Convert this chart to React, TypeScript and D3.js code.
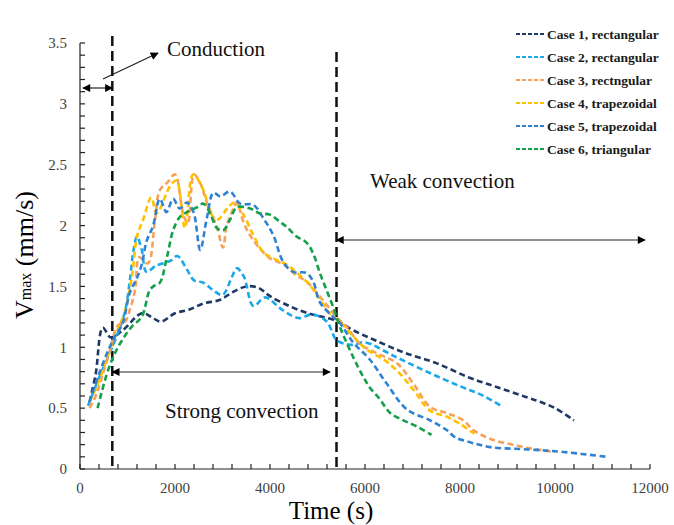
import { useEffect, useRef } from "react";
import * as d3 from "d3";

// time (s), Vmax (mm/s)
const case1 = [
  [200, 0.55], [330, 0.78], [480, 1.16], [650, 1.08], [900, 1.14], [1300, 1.28], [1500, 1.25],
  [1700, 1.21], [2000, 1.28], [2300, 1.31], [2600, 1.36], [2950, 1.39], [3200, 1.45], [3500, 1.5],
  [3750, 1.49], [4000, 1.42], [4400, 1.34], [4800, 1.28], [5100, 1.25], [5450, 1.21], [5750, 1.14],
  [6200, 1.06], [6800, 0.96], [7500, 0.87], [8200, 0.75], [8800, 0.67], [9400, 0.59], [9700, 0.55],
  [10000, 0.5], [10400, 0.4],
];
const case2 = [
  [170, 0.52], [400, 0.75], [600, 0.93], [800, 1.12], [950, 1.3], [1050, 1.55], [1120, 1.78],
  [1200, 1.91], [1300, 1.8], [1400, 1.62], [1600, 1.67], [1900, 1.71], [2050, 1.75], [2250, 1.64],
  [2400, 1.55], [2600, 1.53], [2800, 1.47], [3000, 1.43], [3200, 1.58], [3300, 1.65], [3450, 1.58],
  [3650, 1.34], [3900, 1.41], [4250, 1.31], [4600, 1.24], [4900, 1.27], [5200, 1.21], [5400, 1.06],
  [5700, 1.02], [6000, 1.04], [6600, 0.93], [7300, 0.8], [8000, 0.68], [8500, 0.6], [8900, 0.51],
];
const case3 = [
  [200, 0.5], [320, 0.59], [590, 0.92], [800, 1.18], [950, 1.21], [1050, 1.31], [1160, 1.47],
  [1250, 1.74], [1430, 1.69], [1580, 2.05], [1680, 2.29], [1830, 2.35], [2000, 2.42], [2170, 2.1],
  [2270, 2.02], [2400, 2.42], [2530, 2.35], [2670, 2.19], [2880, 1.99], [3010, 1.82], [3090, 2.0],
  [3230, 2.14], [3300, 2.19], [3440, 2.03], [3580, 1.92], [3790, 1.81], [4000, 1.73], [4280, 1.68],
  [4560, 1.59], [4770, 1.54], [4980, 1.45], [5190, 1.35], [5400, 1.25], [5610, 1.17], [5890, 1.03],
  [6250, 0.95], [6670, 0.87], [7020, 0.7], [7370, 0.51], [7720, 0.46], [8070, 0.4], [8280, 0.32],
  [8560, 0.26], [8770, 0.23], [9120, 0.2], [9470, 0.17], [10000, 0.14],
];
const case4 = [
  [200, 0.55], [400, 0.72], [600, 0.95], [800, 1.15], [950, 1.3], [1100, 1.6], [1200, 1.91],
  [1330, 2.05], [1500, 2.23], [1610, 2.1], [1700, 2.15], [1890, 2.32], [2030, 2.37], [2210, 1.98],
  [2380, 2.42], [2600, 2.29], [2750, 2.1], [2900, 2.05], [3100, 2.14], [3250, 2.19], [3440, 2.09],
  [3650, 1.92], [3860, 1.78], [4070, 1.73], [4350, 1.68], [4630, 1.59], [4840, 1.51], [5050, 1.4],
  [5250, 1.28], [5470, 1.21], [5750, 1.09], [6040, 0.98], [6390, 0.9], [6670, 0.81], [7020, 0.65],
  [7370, 0.48], [7720, 0.43], [8000, 0.37], [8300, 0.29],
];
const case5 = [
  [200, 0.55], [400, 0.78], [600, 0.98], [740, 1.09], [900, 1.2], [1050, 1.45], [1200, 1.57],
  [1300, 1.68], [1400, 1.87], [1540, 2.0], [1680, 2.22], [1820, 2.11], [1960, 2.22], [2100, 2.14],
  [2250, 2.19], [2390, 2.11], [2530, 1.8], [2670, 2.06], [2810, 2.27], [2950, 2.24], [3160, 2.28],
  [3370, 2.18], [3650, 2.17], [3860, 2.06], [4070, 1.92], [4280, 1.7], [4490, 1.62], [4770, 1.61],
  [4910, 1.54], [5050, 1.37], [5330, 1.25], [5470, 1.2], [5750, 1.04], [6100, 0.9], [6460, 0.7],
  [6880, 0.49], [7370, 0.4], [7720, 0.32], [7900, 0.26], [8210, 0.22], [8630, 0.18], [9470, 0.16],
  [10170, 0.14], [11090, 0.1],
];
const case6 = [
  [370, 0.5], [590, 0.81], [800, 1.0], [1090, 1.17], [1300, 1.25], [1470, 1.47], [1580, 1.51],
  [1680, 1.53], [1830, 1.74], [1960, 1.96], [2100, 2.07], [2250, 2.11], [2460, 2.15], [2600, 2.18],
  [2740, 2.1], [2880, 1.98], [3010, 1.96], [3160, 2.05], [3300, 2.15], [3580, 2.14], [3790, 2.1],
  [4000, 2.09], [4210, 2.03], [4350, 1.99], [4560, 1.91], [4770, 1.86], [4910, 1.77], [5050, 1.61],
  [5190, 1.47], [5330, 1.33], [5470, 1.17], [5750, 0.92], [5960, 0.76], [6100, 0.67], [6320, 0.57],
  [6530, 0.46], [6810, 0.4], [7090, 0.35], [7400, 0.28],
];

const seriesNames = [
  "Case 1, rectangular",
  "Case 2, rectangular",
  "Case 3, rectngular",
  "Case 4, trapezoidal",
  "Case 5, trapezoidal",
  "Case 6, triangular",
];
const seriesColors = ["#203864", "#1aa8ea", "#f7a05a", "#ffc000", "#2f82d2", "#14a04a"];
const seriesData = [case1, case2, case3, case4, case5, case6];

const xTicks = [0, 2000, 4000, 6000, 8000, 10000, 12000];
const yTicks = [0, 0.5, 1, 1.5, 2, 2.5, 3, 3.5];

// regime boundaries (s)
const conductionEnd = 680;
const strongEnd = 5400;

const serif = "'Liberation Serif', 'DejaVu Serif', serif";

export default function App() {
  const svgRef = useRef(null);

  useEffect(() => {
    const svg = d3.select(svgRef.current);
    svg.selectAll("*").remove();

    const x = d3.scaleLinear().domain([0, 12000]).range([80, 650]);
    const y = d3.scaleLinear().domain([0, 3.5]).range([469, 43]);

    const defs = svg.append("defs");
    defs.append("marker")
      .attr("id", "ah")
      .attr("viewBox", "0 0 10 10")
      .attr("refX", 9)
      .attr("refY", 5)
      .attr("markerWidth", 10)
      .attr("markerHeight", 8)
      .attr("markerUnits", "userSpaceOnUse")
      .attr("orient", "auto-start-reverse")
      .append("path")
      .attr("d", "M0,0 L10,5 L0,10 z")
      .attr("fill", "#000");

    // axes
    const axis = svg.append("g").attr("stroke", "#222").attr("stroke-width", 1.2);
    axis.append("line").attr("x1", x(0)).attr("x2", x(0)).attr("y1", y(3.5)).attr("y2", y(0));
    axis.append("line").attr("x1", x(0)).attr("x2", x(12000)).attr("y1", y(0)).attr("y2", y(0));

    d3.range(0, 3.5001, 0.1).forEach(v => {
      axis.append("line")
        .attr("x1", x(0)).attr("x2", x(0) + 5)
        .attr("y1", y(v)).attr("y2", y(v));
    });
    d3.range(0, 12001, 400).forEach(t => {
      axis.append("line")
        .attr("x1", x(t)).attr("x2", x(t))
        .attr("y1", y(0)).attr("y2", y(0) - 5);
    });

    svg.append("g").selectAll("text")
      .data(yTicks).enter().append("text")
      .attr("x", x(0) - 13)
      .attr("y", d => y(d))
      .attr("dy", "0.35em")
      .attr("text-anchor", "end")
      .style("font-family", serif)
      .style("font-size", "15px")
      .attr("fill", "#404040")
      .text(d => d);

    svg.append("g").selectAll("text")
      .data(xTicks).enter().append("text")
      .attr("x", d => x(d))
      .attr("y", 493)
      .attr("text-anchor", "middle")
      .style("font-family", serif)
      .style("font-size", "15px")
      .attr("fill", "#404040")
      .text(d => d);

    // axis titles
    svg.append("text")
      .attr("x", 331).attr("y", 519)
      .attr("text-anchor", "middle")
      .style("font-family", serif)
      .style("font-size", "25px")
      .text("Time (s)");

    const yt = svg.append("text")
      .attr("transform", "translate(33,255) rotate(-90)")
      .attr("text-anchor", "middle")
      .style("font-family", serif)
      .style("font-size", "26px");
    yt.append("tspan").text("V");
    yt.append("tspan").style("font-size", "16px").attr("dy", -2).text("max");
    yt.append("tspan").attr("dy", 2).text(" (mm/s)");

    // regime boundary lines
    [conductionEnd, strongEnd].forEach((t, i) => {
      svg.append("line")
        .attr("x1", x(t)).attr("x2", x(t))
        .attr("y1", i === 0 ? 36 : 52).attr("y2", y(0))
        .attr("stroke", "#111")
        .attr("stroke-width", 2.5)
        .attr("stroke-dasharray", "10,5");
    });

    // series
    const line = d3.line()
      .x(d => x(d[0]))
      .y(d => y(d[1]))
      .curve(d3.curveCatmullRom.alpha(0.5));

    seriesData.forEach((data, i) => {
      svg.append("path")
        .attr("d", line(data))
        .attr("fill", "none")
        .attr("stroke", seriesColors[i])
        .attr("stroke-width", 2.6)
        .attr("stroke-dasharray", "6,3.5");
    });

    // arrows
    const arrow = (x1, y1, x2, y2, both) => {
      svg.append("line")
        .attr("x1", x1).attr("y1", y1).attr("x2", x2).attr("y2", y2)
        .attr("stroke", "#222")
        .attr("stroke-width", 1.2)
        .attr("marker-end", "url(#ah)")
        .attr("marker-start", both ? "url(#ah)" : null);
    };
    arrow(x(0) + 3, 88, x(conductionEnd), 88, true);
    arrow(103, 79, 158, 53, false);
    arrow(x(conductionEnd), 372, 330, 372, true);
    arrow(x(strongEnd), 240, 645, 240, true);

    const label = (tx, ty, s) => {
      svg.append("text")
        .attr("x", tx).attr("y", ty)
        .style("font-family", serif)
        .style("font-size", "21px")
        .attr("fill", "#111")
        .text(s);
    };
    label(167, 56, "Conduction");
    label(370, 188, "Weak convection");
    label(165, 418, "Strong convection");

    // legend
    const legend = svg.append("g");
    seriesNames.forEach((name, i) => {
      const ly = 34 + i * 23;
      legend.append("line")
        .attr("x1", 516).attr("x2", 544)
        .attr("y1", ly).attr("y2", ly)
        .attr("stroke", seriesColors[i])
        .attr("stroke-width", 2)
        .attr("stroke-dasharray", "4,2");
      legend.append("text")
        .attr("x", 547).attr("y", ly)
        .attr("dy", "0.35em")
        .style("font-family", serif)
        .style("font-weight", "bold")
        .style("font-size", "13.5px")
        .attr("fill", "#1a1a1a")
        .text(name);
    });
  }, []);

  return (
    <svg
      ref={svgRef}
      width={674}
      height={525}
      style={{ position: "absolute", left: 0, top: 0, background: "#fff" }}
    />
  );
}
